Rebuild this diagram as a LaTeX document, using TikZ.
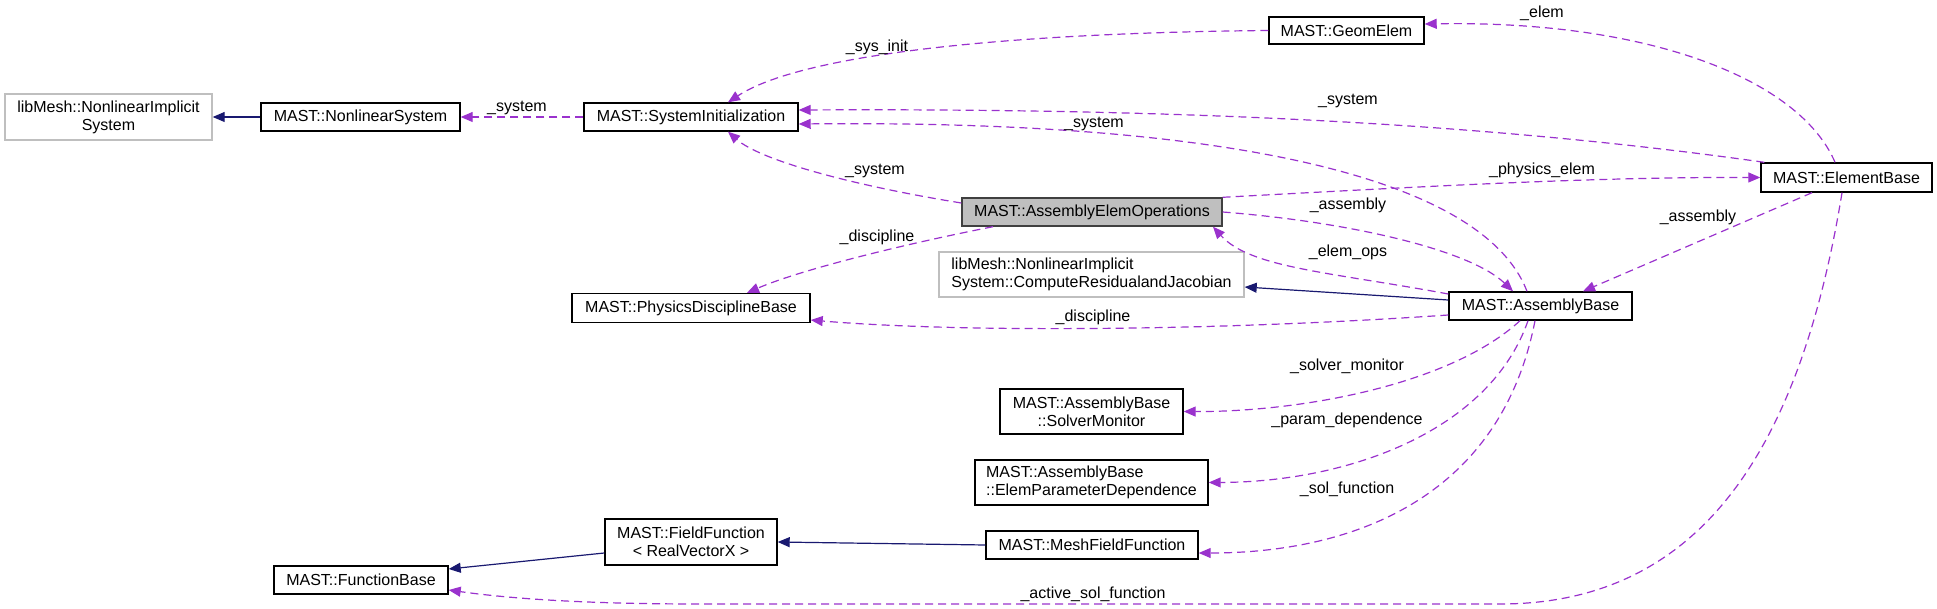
\documentclass[tikz,border=0pt]{standalone}
\usepackage{fontspec}
\setmainfont{Liberation Sans}
\usetikzlibrary{arrows.meta}
\definecolor{edgep}{HTML}{9A32CD}
\definecolor{edgen}{HTML}{191970}
\definecolor{extg}{HTML}{BFBFBF}

\begin{document}
\begin{tikzpicture}[x=0.5pt, y=-0.5pt,
      cls/.style={draw=black, line width=0.7pt, fill=white, inner sep=0pt, align=center, font=\fontsize{8}{9}\selectfont, minimum height=14pt},
      ext/.style={cls, draw=extg},
      focus/.style={cls, fill=extg, draw=black!75},
      inh/.style={-{Triangle[length=6pt,width=5pt]}, line width=0.6pt, color=edgen},
      mem/.style={-{Triangle[length=6pt,width=5pt]}, line width=0.6pt, color=edgep, dash pattern=on 4pt off 2.5pt},
      lbl/.style={font=\fontsize{8}{9}\selectfont, text=black, inner sep=0pt}]
    \useasboundingbox (0,0) rectangle (1937,609);

    \node[ext, minimum width=103.5pt, minimum height=23pt] (nis) at (108.5,117) {libMesh::NonlinearImplicit\\System};
    \node[cls, minimum width=99.5pt] (nls) at (360.5,117) {MAST::NonlinearSystem};
    \node[cls, minimum width=107pt] (sinit) at (691,117) {MAST::SystemInitialization};
    \node[cls, minimum width=77.5pt, minimum height=13.5pt] (geom) at (1346.5,30.5) {MAST::GeomElem};
    \node[cls, minimum width=85.5pt, minimum height=14.5pt] (ebase) at (1846.5,177.5) {MAST::ElementBase};
    \node[focus, minimum width=130pt] (aeo) at (1092,212) {MAST::AssemblyElemOperations};
    \node[ext, align=left, minimum width=152.5pt, minimum height=22.5pt] (crj) at (1091.5,274.5) {libMesh::NonlinearImplicit\\System::ComputeResidualandJacobian};
    \node[cls, minimum width=119pt, minimum height=14.5pt] (pdb) at (691,308) {MAST::PhysicsDisciplineBase};
    \node[cls, minimum width=91.5pt] (abase) at (1540.5,306) {MAST::AssemblyBase};
    \node[cls, minimum width=91.5pt, minimum height=22.5pt] (smon) at (1091.5,411.5) {MAST::AssemblyBase\\::SolverMonitor};
    \node[cls, align=left, minimum width=116.5pt, minimum height=22.5pt] (epd) at (1091.5,482.5) {MAST::AssemblyBase\\::ElemParameterDependence};
    \node[cls, minimum width=106pt] (mff) at (1092,545) {MAST::MeshFieldFunction};
    \node[cls, minimum width=86pt, minimum height=23pt] (ffun) at (691,542) {MAST::FieldFunction\\< RealVectorX >};
    \node[cls, minimum width=87pt] (fbase) at (361,580) {MAST::FunctionBase};

    \draw[inh] (nls) -- (nis);
    \draw[inh] ([yshift=3pt]abase.west) -- ([yshift=-6.25pt]crj.east);
    \draw[inh] (mff.west) -- (ffun.east);
    \draw[inh] ([yshift=-5.5pt]ffun.west) -- ([yshift=5.5pt]fbase.east);

    \draw[mem] (sinit) -- (nls) node[lbl] at (517,108) {\_system};
    \draw[mem] (geom.west) .. controls (1000,33) and (800,55) .. ([xshift=18.5pt]sinit.north) node[lbl] at (877,47) {\_sys\_init};
    \draw[mem] ([xshift=2pt]ebase.north west) .. controls (1500,125) and (1200,108) .. ([yshift=3.5pt]sinit.east) node[lbl] at (1348,101) {\_system};
    \draw[mem] ([xshift=-6.75pt]abase.north) .. controls (1480,170) and (1200,120) .. ([yshift=-3.5pt]sinit.east) node[lbl] at (1094,124) {\_system};
    \draw[mem] ([yshift=4.5pt]aeo.west) .. controls (850,185) and (760,160) .. ([xshift=18.5pt]sinit.south) node[lbl] at (875,171) {\_system};
    \draw[mem] (aeo.north east) .. controls (1450,185) and (1600,177) .. (ebase.west) node[lbl] at (1542,170) {\_physics\_elem};
    \draw[mem] (aeo.east) .. controls (1350,222) and (1470,250) .. ([xshift=-13.75pt]abase.north) node[lbl] at (1348,205) {\_assembly};
    \draw[mem] ([yshift=6pt]abase.west) .. controls (1330,272) and (1250,268) .. ([xshift=60.5pt]aeo.south) node[lbl] at (1348,252) {\_elem\_ops};
    \draw[mem] ([xshift=-49.5pt]aeo.south) .. controls (900,245) and (800,270) .. ([xshift=28pt]pdb.north) node[lbl] at (877,237) {\_discipline};
    \draw[mem] ([yshift=-4.5pt]abase.west) .. controls (1200,332) and (950,332) .. ([yshift=-6pt]pdb.east) node[lbl] at (1093,317) {\_discipline};
    \draw[mem] ([xshift=-17.25pt]ebase.south) -- ([xshift=21.25pt]abase.north) node[lbl] at (1698,217) {\_assembly};
    \draw[mem] ([xshift=-5.75pt]ebase.north) .. controls (1800,80) and (1650,20) .. ([yshift=3.25pt]geom.east) node[lbl] at (1542,13) {\_elem};
    \draw[mem] ([xshift=-10.25pt]abase.south) .. controls (1450,385) and (1300,412) .. (smon.east) node[lbl] at (1347,366) {\_solver\_monitor};
    \draw[mem] ([xshift=-6.25pt]abase.south) .. controls (1490,430) and (1350,482) .. (epd.east) node[lbl] at (1347,420) {\_param\_dependence};
    \draw[mem] ([xshift=-2.75pt]abase.south) .. controls (1500,500) and (1350,553) .. ([yshift=-4pt]mff.east) node[lbl] at (1347,489) {\_sol\_function};
    \draw[mem] ([xshift=-2.25pt]ebase.south) .. controls (1800,450) and (1700,604) .. (1500,604) -- (700,604) .. controls (600,604) and (520,600) .. ([yshift=-5pt]fbase.east) node[lbl] at (1093,594) {\_active\_sol\_function};
  \end{tikzpicture}
\end{document}
